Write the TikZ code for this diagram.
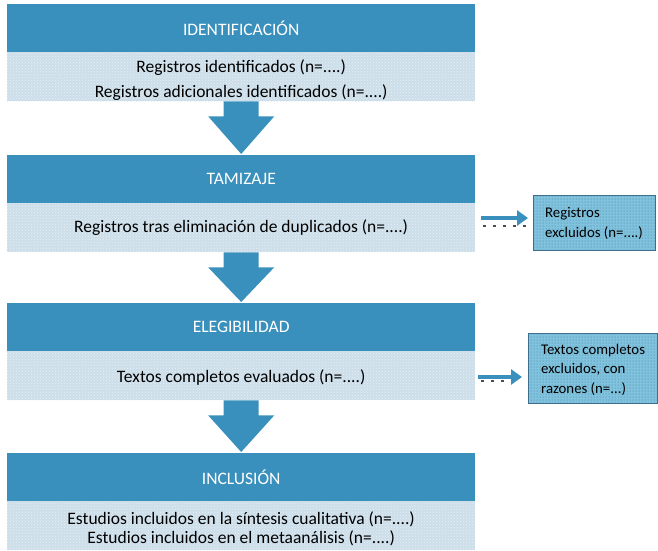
\documentclass[tikz,border=0pt]{standalone}
\usepackage{fontspec}
\setmainfont{Carlito}
\usetikzlibrary{arrows.meta,patterns,positioning}
\definecolor{hdr}{HTML}{3A90BC}
\definecolor{bodyc}{HTML}{CCDEEA}
\definecolor{sidec}{HTML}{7FC3DF}
\definecolor{sideborder}{HTML}{3F6F8F}
\tikzset{
  hdrbox/.style={fill=hdr, draw=none, minimum width=468pt, minimum height=48pt, inner sep=0pt, text=white, font=\fontsize{17.5}{20}\selectfont, anchor=north west},
  bodybox/.style={fill=bodyc, draw=none, minimum width=468pt, minimum height=49pt, inner sep=0pt, align=center, font=\fontsize{17.5}{20}\selectfont, anchor=north west,
     postaction={pattern=crosshatch dots, pattern color=white!55!bodyc}},
  sidebox/.style={fill=sidec, draw=sideborder, line width=0.6pt, inner sep=0pt, anchor=north west,
     postaction={pattern=dots, pattern color=sidec!60!black}},
  sidetext/.style={inner sep=0pt, align=left, anchor=west, font=\fontsize{14.8}{19.5}\selectfont},
  sidearrow/.style={draw=hdr, line width=4pt, -{Triangle[length=11pt,width=15pt]}},
  sidedots/.style={draw=black!70, line width=2pt, dash pattern=on 3pt off 7pt}
}
\begin{document}
\begin{tikzpicture}[x=1pt,y=-1pt]
\useasboundingbox (0,0) rectangle (658,550);
% stage 1
\node[hdrbox] (h1) at (7,4) {IDENTIFICACIÓN};
\node[bodybox, font=\fontsize{17.5}{25}\selectfont] (b1) at (7,52) {\rule{0pt}{19pt}Registros identificados (n=....)\\Registros adicionales identificados (n=....)};
% stage 2
\node[hdrbox] (h2) at (7,155) {TAMIZAJE};
\node[bodybox] (b2) at (7,203) {Registros tras eliminación de duplicados (n=....)};
% stage 3
\node[hdrbox] (h3) at (7,303) {ELEGIBILIDAD};
\node[bodybox] (b3) at (7,351) {\rule{0pt}{16pt}Textos completos evaluados (n=....)};
% stage 4
\node[hdrbox] (h4) at (7,453) {INCLUSIÓN};
\node[bodybox] (b4) at (7,501) {\rule{0pt}{19pt}Estudios incluidos en la síntesis cualitativa (n=....)\\Estudios incluidos en el metaanálisis (n=....)};
% side boxes
\node[sidebox, minimum width=122pt, minimum height=55pt] (s1) at (533,195) {};
\node[sidetext] (s1t) at ([xshift=12pt,yshift=-0.5pt]s1.west) {Registros\\excluidos (n=....)};
\node[sidebox, minimum width=129pt, minimum height=70pt] (s2) at (528,333) {};
\node[sidetext] (s2t) at ([xshift=13pt,yshift=-1.5pt]s2.west) {Textos completos\\excluidos, con\\razones (n=...)};
% big down arrows
\foreach \b/\h in {b1/h2,b2/h3,b3/h4}{
  \path (\b.south) coordinate (top) (\h.north) coordinate (bot);
  \fill[hdr] ([xshift=-17.5pt]top) -- ([xshift=17.5pt]top) -- ([xshift=17.5pt,yshift=-15pt]top)
     -- ([xshift=33pt,yshift=-15pt]top) -- ([yshift=1pt]bot) -- ([xshift=-33pt,yshift=-15pt]top)
     -- ([xshift=-17.5pt,yshift=-15pt]top) -- cycle;
}
% side arrows
\draw[sidedots] ([xshift=8pt]b2.east |- 0,226) -- ([xshift=-6pt]s1.west |- 0,226);
\draw[sidearrow] ([xshift=6pt]b2.east |- 0,218) -- ([xshift=-5pt]s1.west |- 0,218);
\draw[sidedots] ([xshift=6pt]b3.east |- 0,381) -- ([xshift=-8pt]s2.west |- 0,381);
\draw[sidearrow] ([xshift=3pt]b3.east |- 0,377) -- ([xshift=-6pt]s2.west |- 0,377);
\end{tikzpicture}
\end{document}
